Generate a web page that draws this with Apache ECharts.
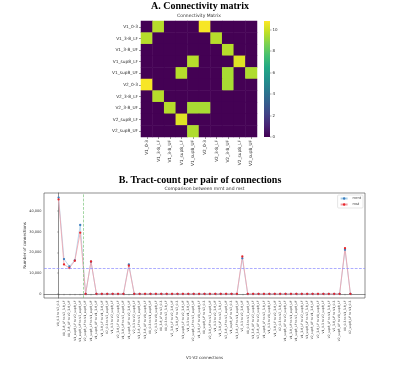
<!DOCTYPE html>
<html><head><meta charset="utf-8">
<script src="https://cdn.jsdelivr.net/npm/echarts@6/dist/echarts.min.js"></script>
<style>html,body{margin:0;padding:0;background:#fff}#c{width:400px;height:366px}</style>
</head><body><div id="c"></div>
<script>
const nodes = ['V1_0-3','V1_3-8_LF','V1_3-8_UF','V1_sup8_LF','V1_sup8_UF','V2_0-3','V2_3-8_LF','V2_3-8_UF','V2_sup8_LF','V2_sup8_UF'];
const matrixValues = [
  [0,9.6,0,0,0,10.7,0,0,0,0],
  [9.6,0,0,0,0,0,9.6,0,0,0],
  [0,0,0,0,0,0,0,9.6,0,0],
  [0,0,0,0,9.6,0,0,0,10.3,0],
  [0,0,0,9.6,0,0,0,9.4,0,9.5],
  [10.7,0,0,0,0,0,0,9.4,0,0],
  [0,9.6,0,0,0,0,0,0,0,0],
  [0,0,9.6,0,9.4,9.4,0,0,0,0],
  [0,0,0,10.3,0,0,0,0,0,0],
  [0,0,0,0,9.5,0,0,0,0,0]
];
const colorbarMax = 10.8;
const colorbarTicks = [0,2,4,6,8,10];
const connLabels = [
 'V1_0-3 to V2_0-3','V1_3-8_LF to V2_3-8_LF','V1_3-8_UF to V2_3-8_UF','V1_sup8_LF to V2_sup8_LF','V1_sup8_UF to V2_sup8_UF',
 'V2_sup8_LF to V1_sup8_UF','V1_sup8_LF to V1_sup8_UF','V1_sup8_UF to V1_3-8_UF','V1_3-8_LF to V1_3-8_UF','V2_0-3 to V2_sup8_UF',
 'V1_0-3 to V2_sup8_LF','V2_3-8_LF to V2_sup8_LF','V1_3-8_UF to V2_sup8_UF','V1_sup8_UF to V2_3-8_UF','V2_0-3 to V2_sup8_LF',
 'V1_3-8_LF to V2_sup8_UF','V1_3-8_UF to V1_sup8_LF','V1_0-3 to V1_sup8_UF','V2_0-3 to V1_sup8_LF','V1_3-8_LF to V2_0-3',
 'V1_0-3 to V2_3-8_LF','V2_3-8_LF to V2_3-8_UF','V1_3-8_UF to V2_0-3','V1_sup8_LF to V2_3-8_UF','V1_0-3 to V1_3-8_UF',
 'V2_sup8_LF to V2_sup8_UF','V1_3-8_LF to V1_sup8_LF','V1_sup8_UF to V2_0-3','V2_3-8_UF to V2_sup8_UF','V1_0-3 to V2_3-8_UF',
 'V1_3-8_UF to V2_3-8_LF','V2_3-8_LF to V2_sup8_UF','V1_sup8_LF to V2_0-3','V1_3-8_LF to V1_sup8_UF','V2_0-3 to V2_3-8_UF',
 'V1_0-3 to V2_sup8_UF','V1_3-8_UF to V2_sup8_LF','V2_3-8_UF to V2_sup8_LF','V1_sup8_LF to V2_3-8_LF','V1_0-3 to V1_sup8_LF',
 'V1_3-8_LF to V2_3-8_UF','V2_0-3 to V2_3-8_LF','V1_sup8_UF to V2_sup8_LF','V1_3-8_UF to V1_sup8_UF','V1_sup8_LF to V2_sup8_UF',
 'V1_3-8_LF to V2_sup8_LF','V1_sup8_UF to V2_3-8_LF','V2_sup8_UF to V1_3-8_UF','V2_3-8_LF to V1_sup8_LF','V1_0-3 to V2_sup8_LF',
 'V2_sup8_LF to V1_3-8_LF','V2_3-8_UF to V1_0-3','V2_sup8_UF to V1_sup8_LF','V1_0-3 to V1_3-8_LF','V2_sup8_UF to V1_0-3'
];
const mrnt = [46400,16750,13240,16100,33170,0,15500,0,0,0,0,0,0,14200,0,0,0,0,0,0,0,0,0,0,0,0,0,0,0,0,0,0,0,0,17100,0,0,0,0,0,0,0,0,0,0,0,0,0,0,0,0,0,0,21200,0];
const mst  = [45500,14200,12440,15950,29500,0,15600,0,0,0,0,0,0,13560,0,0,0,0,0,0,0,0,0,0,0,0,0,0,0,0,0,0,0,0,18000,0,0,0,0,0,0,0,0,0,0,0,0,0,0,0,0,0,0,22000,0];
const yTicks = [0,10000,20000,30000,40000];
const meanLine = 12100;
const splitPos = 4.5;

const viridis = ['#440154','#482475','#414487','#355f8d','#2a788e','#21918c','#22a884','#44bf70','#7ad151','#bddf26','#fde725'];
const heatData = [];
matrixValues.forEach((row,i)=>row.forEach((v,j)=>heatData.push([j,i,v])));
const idx = connLabels.map((_,i)=>i);
const F = 'DejaVu Sans';
const txt = '#333';

const chart = echarts.init(document.getElementById('c'), null, {renderer:'canvas'});
chart.setOption({
  animation:false,
  backgroundColor:'#fff',
  title:[
    {text:'A. Connectivity matrix', left:'center', top:1, padding:0, textStyle:{fontFamily:'Liberation Serif', fontWeight:'bold', fontSize:10, color:'#000'}},
    {text:'Connectivity Matrix', left:199, top:13.6, padding:0, textAlign:'center', textStyle:{fontFamily:F, fontWeight:'normal', fontSize:4.5, color:txt}},
    {text:'B. Tract-count per pair of connections', left:'center', top:175, padding:0, textStyle:{fontFamily:'Liberation Serif', fontWeight:'bold', fontSize:10, color:'#000'}},
    {text:'Comparison between mrnt and mst', left:204.5, top:186.3, padding:0, textAlign:'center', textStyle:{fontFamily:F, fontWeight:'normal', fontSize:4.5, color:txt}}
  ],
  visualMap:{show:false, type:'continuous', min:0, max:colorbarMax, seriesIndex:0, inRange:{color:viridis}},
  legend:{data:['mrnt','mst'], orient:'vertical', right:37, top:195, itemWidth:7, itemHeight:3, itemGap:2,
    padding:[1.5,2], borderColor:'#ccc', borderWidth:0.5, borderRadius:1, backgroundColor:'#fff',
    textStyle:{fontFamily:F, fontSize:3.5, color:txt}},
  grid:[
    {left:141, top:21, width:116, height:116},
    {left:44, top:193, width:321, height:105, show:true, borderColor:'#444', borderWidth:0.6, backgroundColor:'#fff'},
    {left:264, top:21, width:6, height:116}
  ],
  xAxis:[
    {type:'category', gridIndex:0, data:nodes, position:'bottom',
      axisLine:{show:false}, axisTick:{show:true, length:2, lineStyle:{color:'#333', width:0.5}, alignWithLabel:true},
      axisLabel:{rotate:90, fontSize:4.3, fontFamily:F, color:txt, margin:3}, splitLine:{show:false}},
    {type:'value', gridIndex:1, min:-2.7, max:56.7,
      axisLine:{show:true, lineStyle:{color:'#444', width:0.6}},
      axisTick:{show:true, customValues:idx, length:1.5, lineStyle:{color:'#444', width:0.4}},
      axisLabel:{customValues:idx, rotate:90, fontSize:3, fontFamily:F, color:txt, margin:2.5, formatter:v=>connLabels[Math.round(v)]},
      splitLine:{show:false},
      name:'V1-V2 connections', nameLocation:'middle', nameGap:58, nameMoveOverlap:false, nameTextStyle:{fontFamily:F, fontSize:4, color:txt}},
    {type:'category', gridIndex:2, data:['cb'], show:false}
  ],
  yAxis:[
    {type:'category', gridIndex:0, data:nodes, inverse:true,
      axisLine:{show:false}, axisTick:{show:true, length:2, lineStyle:{color:'#333', width:0.5}, alignWithLabel:true},
      axisLabel:{fontSize:4.3, fontFamily:F, color:txt, margin:3}, splitLine:{show:false}},
    {type:'value', gridIndex:1, min:-2000, max:48600,
      axisLine:{show:true, lineStyle:{color:'#444', width:0.6}},
      axisTick:{show:true, customValues:yTicks, length:1.5, lineStyle:{color:'#444', width:0.4}},
      axisLabel:{customValues:yTicks, fontSize:3.5, fontFamily:F, color:txt, margin:2.5},
      splitLine:{show:false},
      name:'Number of connections', nameLocation:'middle', nameGap:17, nameMoveOverlap:false, nameTextStyle:{fontFamily:F, fontSize:4, color:txt}},
    {type:'value', gridIndex:2, min:0, max:colorbarMax, position:'right',
      axisLine:{show:false},
      axisTick:{show:true, customValues:colorbarTicks, length:1.5, lineStyle:{color:'#333', width:0.4}},
      axisLabel:{customValues:colorbarTicks, fontSize:4, fontFamily:F, color:txt, margin:2.5},
      splitLine:{show:false}}
  ],
  series:[
    {type:'heatmap', xAxisIndex:0, yAxisIndex:0, data:heatData, itemStyle:{borderWidth:0}},
    {name:'mrnt', type:'line', xAxisIndex:1, yAxisIndex:1, data:idx.map(i=>[i,mrnt[i]]),
      symbol:'circle', symbolSize:2.3, itemStyle:{color:'#3b7dbf'}, lineStyle:{color:'#a9cfe8', width:0.8}},
    {name:'mst', type:'line', xAxisIndex:1, yAxisIndex:1, data:idx.map(i=>[i,mst[i]]),
      symbol:'circle', symbolSize:2.3, itemStyle:{color:'#e8262a'}, lineStyle:{color:'#f2a0a8', width:0.8},
      markLine:{silent:true, symbol:'none', label:{show:false},
        data:[
          {yAxis:meanLine, lineStyle:{color:'#8a8aff', type:'dashed', width:0.7}},
          {xAxis:splitPos, lineStyle:{color:'#7cc47c', type:'dashed', width:0.7}}
        ]}},
    {type:'bar', xAxisIndex:2, yAxisIndex:2, data:[colorbarMax], barWidth:'100%', silent:true,
      itemStyle:{color:new echarts.graphic.LinearGradient(0,1,0,0, viridis.map((c,k)=>({offset:k/10, color:c})))}}
  ]
});
</script></body></html>
